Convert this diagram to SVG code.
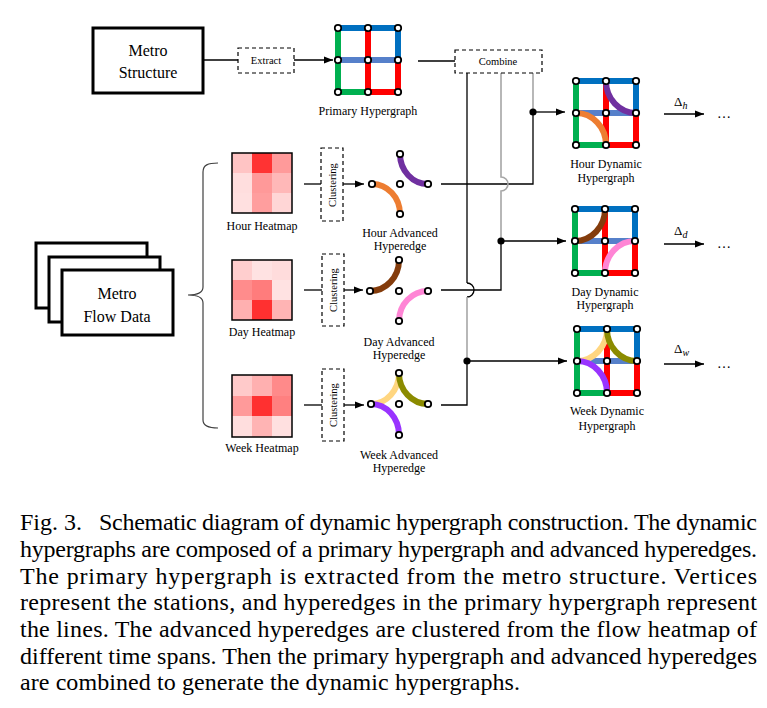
<svg xmlns="http://www.w3.org/2000/svg" width="767" height="708" viewBox="0 0 767 708">
<style>
text{font-family:"Liberation Serif","Times New Roman",serif;fill:#000}
.lbl{font-size:12px;text-anchor:middle}
.big{font-size:16px;text-anchor:middle}
.sm{font-size:10.5px;text-anchor:middle}
.dash{fill:#fff;stroke:#000;stroke-width:1.2;stroke-dasharray:4 3}
.thick{fill:#fff;stroke:#000;stroke-width:3}
.ln{fill:none;stroke:#000;stroke-width:1.3}
.gr{fill:none;stroke:#A6A6A6;stroke-width:1.6}
.arc{fill:none;stroke-width:6}
.nd{fill:#fff;stroke:#000;stroke-width:1.8}
.gline{fill:none;stroke-width:6}
.hm{stroke:#000;stroke-width:1.5;fill:none}
.cap{font-size:24px}
</style>
<defs>
<marker id="ah" markerWidth="9" markerHeight="8" refX="9" refY="4" orient="auto" markerUnits="userSpaceOnUse"><path d="M0,0.5 L9,4 L0,7.5z" fill="#000"/></marker>
<g id="gl">
<path class="gline" d="M0,0V64H30" stroke="#00B050"/>
<path class="gline" d="M30,0V64H60V32" stroke="#FF0000"/>
<path class="gline" d="M0,0H60V32" stroke="#0070C0"/>
<path class="gline" d="M0,32H60" stroke="#4472C4" stroke-opacity="0.9"/>
</g>
<g id="gn">
<circle class="nd" cx="0" cy="0" r="3.2"/><circle class="nd" cx="30" cy="0" r="3.2"/><circle class="nd" cx="60" cy="0" r="3.2"/>
<circle class="nd" cx="0" cy="32" r="3.2"/><circle class="nd" cx="30" cy="32" r="3.2"/><circle class="nd" cx="60" cy="32" r="3.2"/>
<circle class="nd" cx="0" cy="64" r="3.2"/><circle class="nd" cx="30" cy="64" r="3.2"/><circle class="nd" cx="60" cy="64" r="3.2"/>
</g>
</defs>
<rect width="767" height="708" fill="#fff"/>

<!-- connectors -->
<g id="connectors">
<line class="ln" x1="203" y1="60" x2="238" y2="60"/>
<line class="ln" x1="294" y1="60" x2="333" y2="60" marker-end="url(#ah)"/>
<line class="ln" x1="418" y1="61" x2="455" y2="61"/>
<!-- hour -->
<line class="ln" x1="304" y1="184" x2="321" y2="184"/>
<line class="ln" x1="343" y1="184" x2="364" y2="184" marker-end="url(#ah)"/>
<!-- day -->
<line class="ln" x1="304" y1="290" x2="322" y2="290"/>
<line class="ln" x1="344" y1="290" x2="363" y2="290" marker-end="url(#ah)"/>
<!-- week -->
<line class="ln" x1="304" y1="405" x2="322" y2="405"/>
<line class="ln" x1="344" y1="405" x2="364" y2="405" marker-end="url(#ah)"/>
<!-- combine verticals -->
<path class="gr" d="M533,73V112"/>
<path class="ln" d="M441,184H533V112"/>
<path class="gr" d="M501,73V177A7,7 0 0 1 501,191V241"/>
<path class="ln" d="M441,290H501V241"/>
<path class="ln" d="M467,73V283"/>
<path class="ln" d="M467,283A7,7 0 0 1 467,297"/>
<path class="gr" d="M467,297V361"/>
<path class="ln" d="M441,405H467V361"/>
<circle cx="533" cy="112" r="3.6" fill="#000"/>
<circle cx="501" cy="241" r="3.6" fill="#000"/>
<circle cx="467" cy="361" r="3.6" fill="#000"/>
<line class="ln" x1="533" y1="112" x2="565" y2="112" marker-end="url(#ah)"/>
<line class="ln" x1="501" y1="241" x2="566" y2="241" marker-end="url(#ah)"/>
<line class="ln" x1="467" y1="361" x2="567" y2="361" marker-end="url(#ah)"/>
<!-- delta arrows -->
<line class="ln" x1="664" y1="114" x2="704" y2="114" marker-end="url(#ah)"/>
<line class="ln" x1="664" y1="244" x2="704" y2="244" marker-end="url(#ah)"/>
<line class="ln" x1="664" y1="364" x2="704" y2="364" marker-end="url(#ah)"/>
<!-- brace -->
<path d="M218,163C208,163 203,165 203,172L203,287C203,292 198,295 188,295C198,295 203,298 203,303L203,420C203,426 208,428 218,428" fill="none" stroke="#404040" stroke-width="1.2"/>
</g>

<g id="metro-structure">
<rect class="thick" x="93" y="28" width="110" height="65"/>
<text class="big" x="148" y="56">Metro</text>
<text class="big" x="148" y="78">Structure</text>
</g>

<g id="extract">
<rect class="dash" x="238" y="48" width="56" height="25"/>
<text class="sm" x="266" y="64">Extract</text>
</g>

<g id="primary-hypergraph">
<g transform="translate(338,28)"><use href="#gl"/><use href="#gn"/></g>
<text class="lbl" x="368" y="115">Primary Hypergraph</text>
</g>

<g id="combine">
<rect class="dash" x="455" y="50" width="87" height="23"/>
<text class="sm" x="498" y="65">Combine</text>
</g>

<g id="metro-flow-data">
<rect class="thick" x="36" y="243" width="111" height="65"/>
<rect class="thick" x="49" y="257" width="111" height="65"/>
<rect class="thick" x="62" y="270" width="111" height="65"/>
<text class="big" x="117" y="299">Metro</text>
<text class="big" x="117" y="322">Flow Data</text>
</g>

<g id="hour-heatmap">
<rect x="232" y="153" width="20" height="20" fill="#FFC4C4"/><rect x="252" y="153" width="20" height="20" fill="#FF3333"/><rect x="272" y="153" width="20" height="20" fill="#FF9A9A"/>
<rect x="232" y="173" width="20" height="20" fill="#FFDEDE"/><rect x="252" y="173" width="20" height="20" fill="#FF9999"/><rect x="272" y="173" width="20" height="20" fill="#FFB8B8"/>
<rect x="232" y="193" width="20" height="20" fill="#FFE0E0"/><rect x="252" y="193" width="20" height="20" fill="#FF9E9E"/><rect x="272" y="193" width="20" height="20" fill="#FFD6D6"/>
<rect class="hm" x="232" y="153" width="60" height="60"/>
<text class="lbl" x="262" y="230">Hour Heatmap</text>
</g>

<g id="day-heatmap">
<rect x="232" y="260" width="20" height="20" fill="#FFCECE"/><rect x="252" y="260" width="20" height="20" fill="#FFE2E2"/><rect x="272" y="260" width="20" height="20" fill="#FFDCDC"/>
<rect x="232" y="280" width="20" height="20" fill="#FF8C8C"/><rect x="252" y="280" width="20" height="20" fill="#FF7C7C"/><rect x="272" y="280" width="20" height="20" fill="#FFE2E2"/>
<rect x="232" y="300" width="20" height="20" fill="#FFB0B0"/><rect x="252" y="300" width="20" height="20" fill="#FF3030"/><rect x="272" y="300" width="20" height="20" fill="#FFB4B4"/>
<rect class="hm" x="232" y="260" width="60" height="60"/>
<text class="lbl" x="262" y="336">Day Heatmap</text>
</g>

<g id="week-heatmap">
<rect x="232" y="375" width="20" height="21" fill="#FFCACA"/><rect x="252" y="375" width="20" height="21" fill="#FFB0B0"/><rect x="272" y="375" width="20" height="21" fill="#FF8A8A"/>
<rect x="232" y="396" width="20" height="20" fill="#FF9A9A"/><rect x="252" y="396" width="20" height="20" fill="#FF3030"/><rect x="272" y="396" width="20" height="20" fill="#FF8080"/>
<rect x="232" y="416" width="20" height="21" fill="#FFDEDE"/><rect x="252" y="416" width="20" height="21" fill="#FFB4B4"/><rect x="272" y="416" width="20" height="21" fill="#FFE0E0"/>
<rect class="hm" x="232" y="375" width="60" height="62"/>
<text class="lbl" x="262" y="452">Week Heatmap</text>
</g>

<g id="hour-clustering">
<rect class="dash" x="321" y="148" width="22" height="73"/>
<text class="sm" transform="translate(336,185) rotate(-90)">Clustering</text>
</g>
<g id="day-clustering">
<rect class="dash" x="322" y="254" width="22" height="72"/>
<text class="sm" transform="translate(337,290) rotate(-90)">Clustering</text>
</g>
<g id="week-clustering">
<rect class="dash" x="322" y="369" width="22" height="72"/>
<text class="sm" transform="translate(337,405) rotate(-90)">Clustering</text>
</g>

<g id="hour-advanced-hyperedge">
<path class="arc" stroke="#7030A0" d="M400,154A28,30 0 0 0 428,184"/>
<path class="arc" stroke="#ED7D31" d="M372,184A28,30 0 0 1 400,214"/>
<circle class="nd" cx="372" cy="184" r="3.2"/><circle class="nd" cx="400" cy="184" r="3.2"/><circle class="nd" cx="428" cy="184" r="3.2"/>
<circle class="nd" cx="400" cy="154" r="3.2"/><circle class="nd" cx="400" cy="214" r="3.2"/>
<text class="lbl" x="400" y="237">Hour Advanced</text>
<text class="lbl" x="400" y="250">Hyperedge</text>
</g>

<g id="day-advanced-hyperedge">
<path class="arc" stroke="#843C0C" d="M370,291A29,31 0 0 0 399,260"/>
<path class="arc" stroke="#FF85D5" d="M428,291A29,30 0 0 0 399,321"/>
<circle class="nd" cx="370" cy="291" r="3.2"/><circle class="nd" cx="399" cy="291" r="3.2"/><circle class="nd" cx="428" cy="291" r="3.2"/>
<circle class="nd" cx="399" cy="260" r="3.2"/><circle class="nd" cx="399" cy="321" r="3.2"/>
<text class="lbl" x="399" y="346">Day Advanced</text>
<text class="lbl" x="399" y="359">Hyperedge</text>
</g>

<g id="week-advanced-hyperedge">
<path class="arc" stroke="#FFD680" d="M371,404A28,31 0 0 0 399,373"/>
<path class="arc" stroke="#8B8B00" d="M399,373A29,31 0 0 0 428,404"/>
<path class="arc" stroke="#9933FF" d="M371,404A28,31 0 0 1 399,435"/>
<circle class="nd" cx="371" cy="404" r="3.2"/><circle class="nd" cx="399" cy="404" r="3.2"/><circle class="nd" cx="428" cy="404" r="3.2"/>
<circle class="nd" cx="399" cy="373" r="3.2"/><circle class="nd" cx="399" cy="435" r="3.2"/>
<text class="lbl" x="399" y="459">Week Advanced</text>
<text class="lbl" x="399" y="472">Hyperedge</text>
</g>

<g id="hour-dynamic-hypergraph">
<g transform="translate(576,81)">
<use href="#gl"/>
<path class="arc" stroke="#7030A0" d="M30,0A30,32 0 0 0 60,32"/>
<path class="arc" stroke="#ED7D31" d="M0,32A30,32 0 0 1 30,64"/>
<use href="#gn"/>
</g>
<text class="lbl" x="606" y="168">Hour Dynamic</text>
<text class="lbl" x="606" y="182">Hypergraph</text>
</g>

<g id="day-dynamic-hypergraph">
<g transform="translate(575,209)">
<use href="#gl"/>
<path class="arc" stroke="#843C0C" d="M0,32A30,32 0 0 0 30,0"/>
<path class="arc" stroke="#FF85D5" d="M60,32A30,32 0 0 0 30,64"/>
<use href="#gn"/>
</g>
<text class="lbl" x="605" y="296">Day Dynamic</text>
<text class="lbl" x="605" y="309">Hypergraph</text>
</g>

<g id="week-dynamic-hypergraph">
<g transform="translate(577,329)">
<use href="#gl"/>
<path class="arc" stroke="#FFD680" d="M0,32A30,32 0 0 0 30,0"/>
<path class="arc" stroke="#8B8B00" d="M30,0A30,32 0 0 0 60,32"/>
<path class="arc" stroke="#9933FF" d="M0,32A30,32 0 0 1 30,64"/>
<use href="#gn"/>
</g>
<text class="lbl" x="607" y="415">Week Dynamic</text>
<text class="lbl" x="607" y="430">Hypergraph</text>
</g>

<g id="deltas">
<text x="674" y="106" font-size="13">Δ<tspan font-size="10" font-style="italic" dy="3">h</tspan></text>
<text x="674" y="235" font-size="13">Δ<tspan font-size="10" font-style="italic" dy="3">d</tspan></text>
<text x="674" y="353" font-size="13">Δ<tspan font-size="10" font-style="italic" dy="3">w</tspan></text>
<text x="724" y="118" font-size="14" text-anchor="middle">…</text>
<text x="724" y="248" font-size="14" text-anchor="middle">…</text>
<text x="724" y="368" font-size="14" text-anchor="middle">…</text>
</g>

<g id="caption">
<text class="cap" x="20" y="530">Fig. 3.</text>
<text class="cap" x="99" y="530" textLength="658" lengthAdjust="spacing">Schematic diagram of dynamic hypergraph construction. The dynamic</text>
<text class="cap" x="20" y="556.5" textLength="737" lengthAdjust="spacing">hypergraphs are composed of a primary hypergraph and advanced hyperedges.</text>
<text class="cap" x="20" y="583.5" textLength="737" lengthAdjust="spacing">The primary hypergraph is extracted from the metro structure. Vertices</text>
<text class="cap" x="20" y="610" textLength="737" lengthAdjust="spacing">represent the stations, and hyperedges in the primary hypergraph represent</text>
<text class="cap" x="20" y="637" textLength="737" lengthAdjust="spacing">the lines. The advanced hyperedges are clustered from the flow heatmap of</text>
<text class="cap" x="20" y="663.5" textLength="737" lengthAdjust="spacing">different time spans. Then the primary hypergraph and advanced hyperedges</text>
<text class="cap" x="20" y="690" textLength="500" lengthAdjust="spacing">are combined to generate the dynamic hypergraphs.</text>
</g>
</svg>
